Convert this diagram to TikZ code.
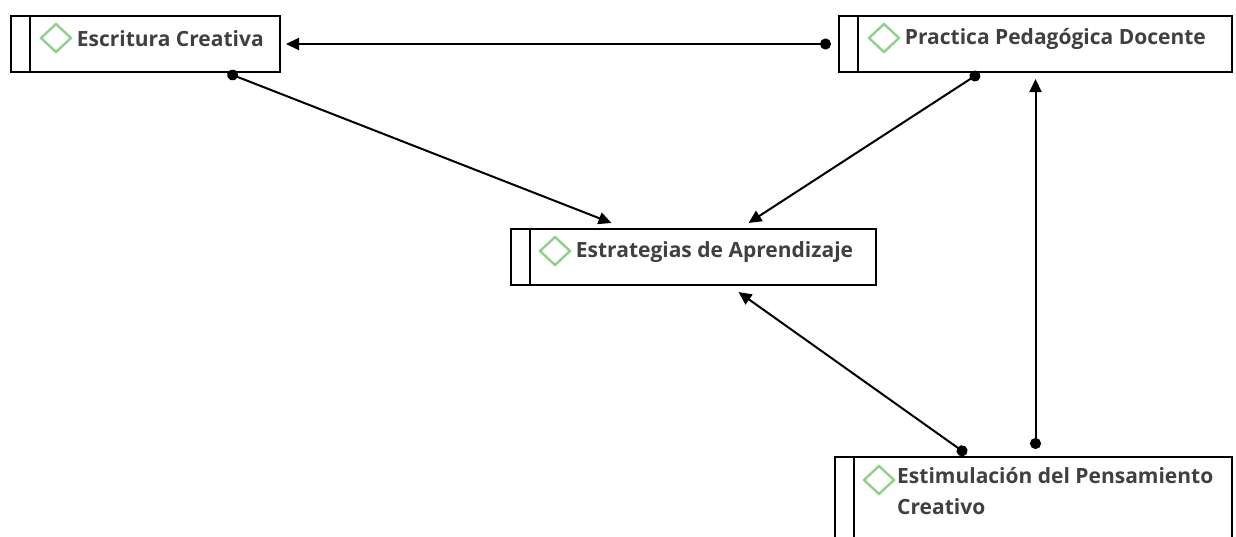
\documentclass[tikz,border=0pt]{standalone}
\usepackage{fontspec}
\usepackage{xcolor}
\usepackage{tikz}
\usetikzlibrary{positioning,shapes.geometric,arrows.meta}
\setmainfont{Open Sans}
\definecolor{txtgray}{HTML}{404040}
\definecolor{gemgreen}{HTML}{8FD18A}
\tikzset{
  box/.style={draw, line width=2pt, rectangle, anchor=north west, minimum height=56pt,
    path picture={\draw[line width=2pt] ([xshift=19pt]path picture bounding box.north west) -- ([xshift=19pt]path picture bounding box.south west);}},
  gem/.style={diamond, draw=gemgreen, line width=2.4pt, minimum width=31pt, minimum height=29pt, inner sep=0pt},
  lbl/.style={font=\bfseries\fontsize{21}{31}\selectfont, text=txtgray, inner sep=0pt},
  conn/.style={line width=2pt, {Circle[length=11pt]}-{Triangle[length=13pt,width=12pt]}}
}
\begin{document}
\begin{tikzpicture}[x=1pt,y=-1pt]
\useasboundingbox (0,0) rectangle (1236,536);
\clip (0,0) rectangle (1236,536);
% boxes
\node[box, minimum width=269pt] (esc) at (10,15) {};
\node[box, minimum width=393pt] (ppd) at (838,15) {};
\node[box, minimum width=365pt] (est) at (510,228) {};
\node[box, minimum width=397pt, minimum height=110pt] (estim) at (834,456) {};
% labels
\node[gem] (escg) at (56,38) {};
\node[lbl, right=4pt of escg, yshift=-1pt] (escl) {Escritura Creativa};
\node[gem] (ppdg) at (884,38) {};
\node[lbl, right=4pt of ppdg, yshift=-1pt] (ppdl) {Practica Pedagógica Docente};
\node[gem] (estg) at (555,251) {};
\node[lbl, right=4pt of estg, yshift=-1pt] (estl) {Estrategias de Aprendizaje};
\node[gem] (estimg) at (879,480) {};
\node[lbl, anchor=north west, align=left] (estiml) at (897,467) {Estimulación del Pensamiento\\Creativo};
% connectors
\draw[conn] ([xshift=-7pt]ppd.west) -- ([xshift=5pt]esc.east);
\draw[conn] ([xshift=82pt]esc.south) -- ([xshift=-82pt,yshift=5pt]est.north);
\draw[conn] ([xshift=-56pt]ppd.south) -- ([xshift=55pt,yshift=5pt]est.north);
\draw[conn] ([xshift=-67pt,yshift=2pt]estim.north) -- ([xshift=45pt,yshift=-6pt]est.south);
\draw[conn] ([xshift=2pt,yshift=7pt]estim.north) -- ([yshift=-6pt]ppd.south);
\end{tikzpicture}
\end{document}
